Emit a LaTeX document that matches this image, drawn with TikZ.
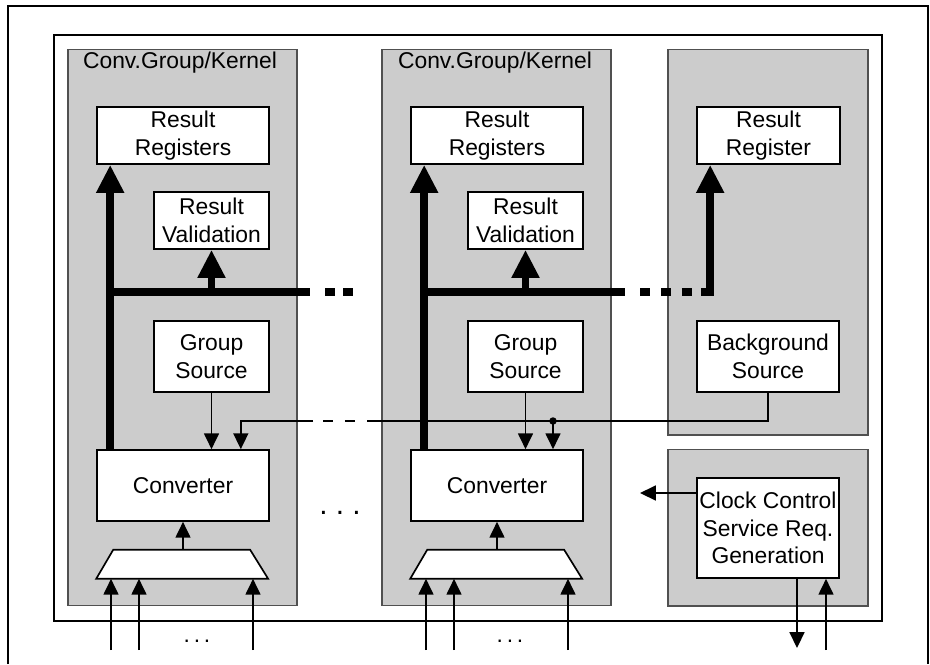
\documentclass[tikz,border=0pt]{standalone}
\usepackage{fontspec}
\setmainfont{Liberation Sans}
\usetikzlibrary{arrows.meta,positioning,calc}
\definecolor{panelgray}{RGB}{204,204,204}
\definecolor{paneledge}{RGB}{80,80,80}

\begin{document}
\begin{tikzpicture}[x=0.02cm, y=-0.02cm,
    font=\fontsize{13pt}{15.6pt}\selectfont,
    panel/.style={draw=paneledge, fill=panelgray, line width=0.6pt, inner sep=0pt},
    box/.style={draw, fill=white, line width=0.95pt, align=center, inner sep=0pt},
    muxline/.style={draw, fill=white, line width=0.95pt, line join=miter},
    wire/.style={line width=0.9pt},
    sig/.style={line width=0.9pt, -{Triangle[length=9pt,width=8.5pt]}},
    bus/.style={line width=4.3pt},
    busarrow/.style={line width=4.3pt, -{Triangle[length=16pt,width=15pt]}},
]
    \useasboundingbox (0,0) rectangle (930,664);

    % Frames
    \draw[line width=1.3pt] (8,664) -- (8,6) -- (928,6) -- (928,664);
    \draw[line width=0.9pt] (54,35) rectangle (882,621);

    % Grey panels
    \node[panel, minimum width=4.58cm, minimum height=11.14cm] (grp1) at (182.5,327.5) {};
    \node[panel, minimum width=4.58cm, minimum height=11.14cm] (grp2) at (496.5,327.5) {};
    \node[panel, minimum width=4cm, minimum height=7.72cm] (bgp) at (768,242) {};
    \node[panel, minimum width=4cm, minimum height=3.14cm] (ckp) at (768,527.5) {};
    \node (lbl1) at (180,63) {Conv.Group/Kernel};
    \node (lbl2) at (495,63) {Conv.Group/Kernel};

    % Group 1 blocks
    \node[box, minimum width=3.44cm, minimum height=1.14cm] (rr1) at (183,135.5) {Result\\Registers};
    \node[box, minimum width=2.3cm, minimum height=1.14cm] (rv1) at (211.5,220.5) {Result\\Validation};
    \node[box, minimum width=2.3cm, minimum height=1.42cm] (gs1) at (211.5,356.5) {Group\\Source};
    \node[box, minimum width=3.44cm, minimum height=1.42cm] (cv1) at (183,485.5) {Converter};
    \draw[muxline] ([yshift=-1.14cm]cv1.south west) -- ++(17,-29) -- ++(137,0) -- ++(18,29) -- cycle;
    \coordinate (mux1top) at ([yshift=-0.56cm]cv1.south);
    \coordinate (mux1bot) at ([yshift=-1.14cm]cv1.south);

    % Group 2 blocks
    \node[box, minimum width=3.44cm, minimum height=1.14cm] (rr2) at (497,135.5) {Result\\Registers};
    \node[box, minimum width=2.3cm, minimum height=1.14cm] (rv2) at (525.5,220.5) {Result\\Validation};
    \node[box, minimum width=2.3cm, minimum height=1.42cm] (gs2) at (525.5,356.5) {Group\\Source};
    \node[box, minimum width=3.44cm, minimum height=1.42cm] (cv2) at (497,485.5) {Converter};
    \draw[muxline] ([yshift=-1.14cm]cv2.south west) -- ++(17,-29) -- ++(137,0) -- ++(18,29) -- cycle;
    \coordinate (mux2top) at ([yshift=-0.56cm]cv2.south);
    \coordinate (mux2bot) at ([yshift=-1.14cm]cv2.south);

    % Background and clock blocks
    \node[box, minimum width=2.86cm, minimum height=1.14cm] (rr3) at (768.5,135.5) {Result\\Register};
    \node[box, minimum width=2.84cm, minimum height=1.42cm] (bs) at (768,356.5) {Background\\Source};
    \node[box, minimum width=2.84cm, minimum height=2cm] (ck) at (768,528) {Clock Control\\Service Req.\\Generation};

    % Result bus
    \draw[busarrow] ([xshift=0.28cm]cv1.north west) -- ([xshift=0.28cm]rr1.south west);
    \draw[bus] (111,292) -- (310,292);
    \draw[bus, dash pattern=on 0.2cm off 0.16cm] (325,292) -- (353,292);
    \draw[busarrow] (rv1.south |- 0,292) -- (rv1.south);
    \draw[busarrow] ([xshift=0.28cm]cv2.north west) -- ([xshift=0.28cm]rr2.south west);
    \draw[bus] (426,292) -- (625,292);
    \draw[bus, dash pattern=on 0.2cm off 0.22cm] (640,292) -- (692,292);
    \draw[busarrow] (rv2.south |- 0,292) -- (rv2.south);
    \draw[busarrow, line join=miter] (701,292) -| ([xshift=0.28cm]rr3.south west);

    % Source lines
    \draw[sig] (gs1.south) -- (gs1.south |- cv1.north);
    \draw[sig] (gs2.south) -- (gs2.south |- cv2.north);
    \coordinate (gapL) at (313,421);
    \coordinate (gapR) at (367,421);
    \coordinate (tap) at (553,421);
    \draw[wire] (bs.south) |- (gapR);
    \draw[wire, dash pattern=on 0.2cm off 0.24cm] (323,421) -- (355,421);
    \draw[sig] (gapL) -| ([xshift=-0.58cm]cv1.north east);
    \fill (tap) circle[radius=0.075cm];
    \draw[sig] (tap) -- (tap |- cv2.north);

    % Multiplexer inputs
    \draw[sig] (mux1top) -- (cv1.south);
    \draw[sig] (mux2top) -- (cv2.south);
    \coordinate (in11) at (111,650);
    \coordinate (in12) at (139,650);
    \coordinate (in13) at (253,650);
    \coordinate (in21) at (426,650);
    \coordinate (in22) at (454,650);
    \coordinate (in23) at (568,650);
    \draw[sig] (in11) -- (in11 |- mux1bot);
    \draw[sig] (in12) -- (in12 |- mux1bot);
    \draw[sig] (in13) -- (in13 |- mux1bot);
    \draw[sig] (in21) -- (in21 |- mux2bot);
    \draw[sig] (in22) -- (in22 |- mux2bot);
    \draw[sig] (in23) -- (in23 |- mux2bot);
    \node[anchor=base] (dots1) at (197,642) {.\,.\,.};
    \node[anchor=base] (dots2) at (510,642) {.\,.\,.};
    \node[anchor=base, font=\fontsize{17pt}{20pt}\selectfont] (dots3) at (340,514) {.\ .\ .};

    % Clock control
    \coordinate (ckout) at (640,493);
    \coordinate (ckreq) at (797,648);
    \coordinate (ckin) at (826,650);
    \draw[sig] (ck.west |- ckout) -- (ckout);
    \draw[sig] (ckreq |- ck.south) -- (ckreq);
    \draw[sig] (ckin) -- (ckin |- ck.south);
\end{tikzpicture}
\end{document}
